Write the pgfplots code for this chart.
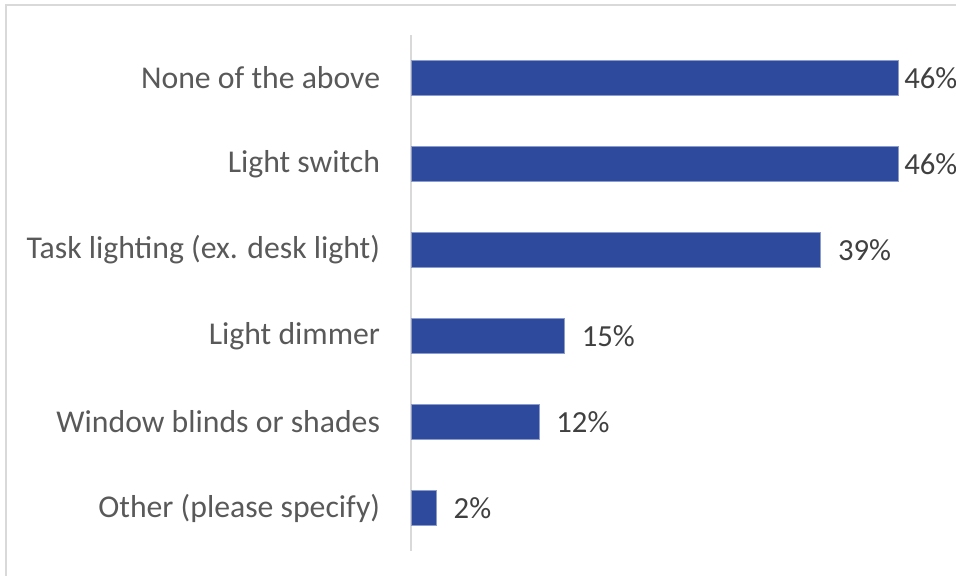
\documentclass[border=0pt]{standalone}
\usepackage{pgfplots}
\pgfplotsset{compat=1.18}
\usepackage{pgfplotstable}
\usepackage{fontspec}
\setmainfont{Carlito}
\definecolor{barblue}{HTML}{2E4A9C}
\definecolor{cattext}{HTML}{595959}
\definecolor{valtext}{HTML}{404040}
\definecolor{gridgray}{HTML}{D9D9D9}
\pgfplotstableread{
y  val   lab dx
0  46.0  46  4.5
1  46.0  46  4.5
2  38.7  39  12.75
3  14.5  15  12.75
4  12.1  12  12.75
5  2.4   2   12.75
}\datatable
\begin{document}
\begin{tikzpicture}
\useasboundingbox (0,0) rectangle (717pt,431.25pt);
\draw[gridgray, line width=1.5pt] (4.5pt,-20pt) |- (740pt,427.5pt);
\begin{axis}[
  at={(308.25pt,18pt)}, anchor=south west,
  scale only axis,
  width=397.05pt, height=387pt,
  xmin=0, xmax=50,
  ymin=-0.5, ymax=5.5,
  y dir=reverse,
  axis x line=none,
  axis y line*=left,
  y axis line style={gridgray, line width=1.5pt},
  ytick={0,1,2,3,4,5},
  yticklabels={None of the above, Light switch, Task lighting (ex. desk light), Light dimmer, Window blinds or shades, Other (please specify)},
  major tick length=0pt,
  yticklabel style={anchor=east, inner sep=0pt, xshift=-23pt, text=cattext, font=\fontsize{23.8}{28}\selectfont},
  xbar, bar width=0.4,
  point meta=explicit symbolic,
  nodes near coords={\pgfplotspointmeta\%},
  visualization depends on={\thisrow{dx} \as \dx},
  every node near coord/.append style={anchor=west, inner sep=0pt, xshift=\dx pt, text=valtext, font=\fontsize{23}{27}\selectfont},
  clip=false,
]
\addplot[fill=barblue, draw=barblue!55!white, line width=0.5pt] table[x=val, y=y, meta=lab] {\datatable};
\end{axis}
\end{tikzpicture}
\end{document}
